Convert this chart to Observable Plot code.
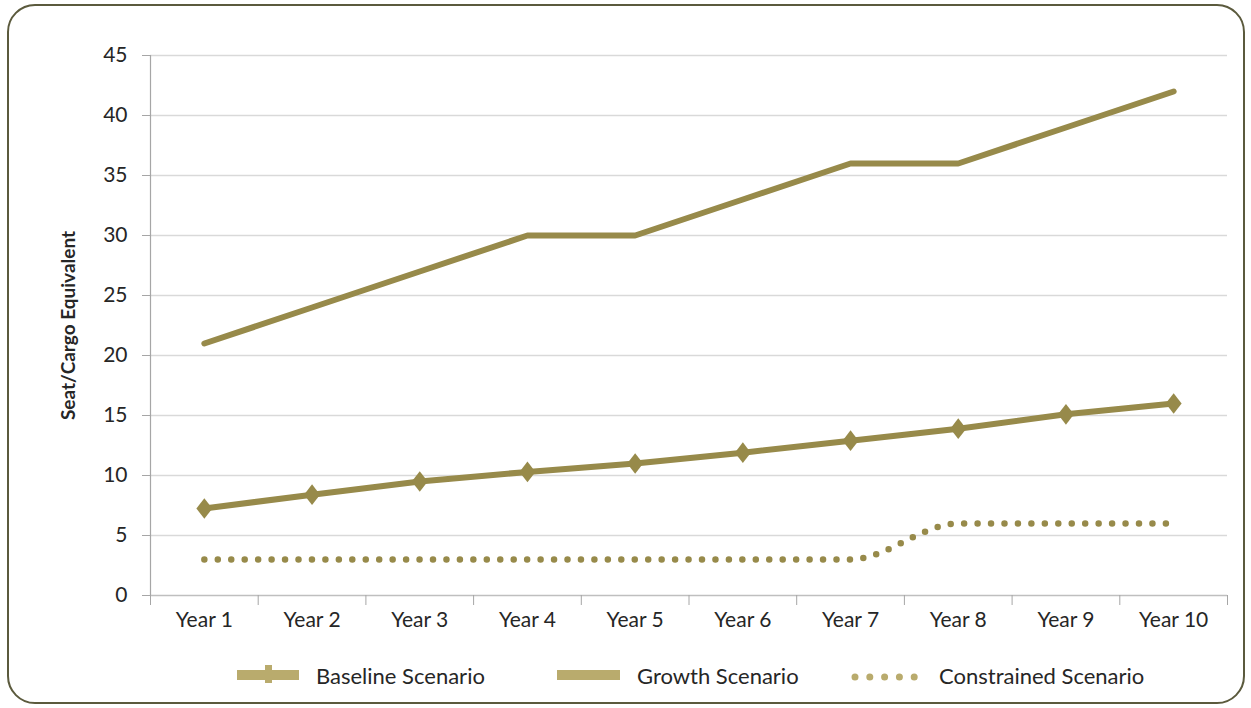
<!DOCTYPE html>
<html>
<head>
<meta charset="utf-8">
<script src="https://cdn.jsdelivr.net/npm/d3@7"></script>
<script src="https://cdn.jsdelivr.net/npm/@observablehq/plot@0.6"></script>
<style>
  html, body { margin: 0; padding: 0; background: #fff; }
  #wrap { position: relative; width: 1251px; height: 708px; overflow: hidden; font-family: Lato, "Open Sans", sans-serif; }
  #frame { position: absolute; left: 7px; top: 4px; width: 1234px; height: 696px; border: 2.5px solid #5b5a3d; border-radius: 28px; }
  #chart { position: absolute; left: 0; top: 0; }
  #legend { position: absolute; left: 0; top: 660px; width: 1251px; height: 30px; font-size: 22px; color: #262626; }
  .item { position: absolute; top: 0; height: 30px; display: flex; align-items: center; }
  .item svg { margin-right: 17px; }
</style>
</head>
<body>
<div id="wrap">
  <div id="frame"></div>
  <div id="chart"></div>
  <div id="legend"></div>
</div>
<script>
const years = ["Year 1","Year 2","Year 3","Year 4","Year 5","Year 6","Year 7","Year 8","Year 9","Year 10"];
const baseline = [7.25, 8.4, 9.5, 10.3, 11.0, 11.9, 12.9, 13.9, 15.1, 16.0];
const growth = [21, 24, 27, 30, 30, 33, 36, 36, 39, 42];
const constrained = [3, 3, 3, 3, 3, 3, 3, 6, 6, 6];
const yTicks = [0, 5, 10, 15, 20, 25, 30, 35, 40, 45];
const seriesNames = ["Baseline Scenario", "Growth Scenario", "Constrained Scenario"];

const lineColor = "#978a4a";
const legendColor = "#b9ab6d";

const idx = years.map((d, i) => i);
const bounds = d3.range(years.length + 1).map(i => i - 0.5);
const rows = (vals) => vals.map((v, i) => ({i, v}));

// diamond marker slightly taller than wide
const diamond = {
  draw(context, size) {
    const w = Math.sqrt(size) * 0.45, h = w * 1.3;
    context.moveTo(0, -h);
    context.lineTo(w, 0);
    context.lineTo(0, h);
    context.lineTo(-w, 0);
    context.closePath();
  }
};

const plot = Plot.plot({
  width: 1251,
  height: 640,
  marginLeft: 150,
  marginRight: 24,
  marginTop: 55,
  marginBottom: 45,
  style: {fontFamily: "Lato, 'Open Sans', sans-serif", fontSize: "21px", color: "#262626", background: "transparent"},
  x: {type: "linear", domain: [-0.5, years.length - 0.5]},
  y: {domain: [0, 45]},
  marks: [
    Plot.gridY(yTicks.filter(d => d > 0), {stroke: "#d9d9d9", strokeOpacity: 1, strokeWidth: 1.5}),
    Plot.ruleY([0], {stroke: "#bfbfbf", strokeWidth: 1.5}),
    Plot.ruleX([-0.5], {y1: 0, y2: 45, stroke: "#a6a6a6", strokeWidth: 1.2}),
    Plot.axisY(yTicks, {tickSize: 8, tickPadding: 15, stroke: "#a6a6a6", fill: "#262626", fontSize: 21, label: null}),
    Plot.axisX(bounds, {tickSize: 10, tickFormat: () => "", stroke: "#a6a6a6", label: null}),
    Plot.axisX(idx, {tickSize: 0, tickPadding: 17, tickFormat: i => years[i], fill: "#262626", fontSize: 21, label: null}),
    Plot.text(["Seat/Cargo Equivalent"], {frameAnchor: "left", rotate: -90, dx: -82, textAnchor: "middle", fontWeight: "bold", fontSize: 19, fill: "#262626"}),
    Plot.line(rows(constrained), {x: "i", y: "v", curve: "monotone-x", stroke: lineColor, strokeWidth: 6.5, strokeDasharray: "0 13.45", strokeLinecap: "round"}),
    Plot.line(rows(growth), {x: "i", y: "v", stroke: lineColor, strokeWidth: 6, strokeLinecap: "round", strokeLinejoin: "round"}),
    Plot.line(rows(baseline), {x: "i", y: "v", stroke: lineColor, strokeWidth: 6, strokeLinecap: "round", strokeLinejoin: "round"}),
    Plot.dot(rows(baseline), {x: "i", y: "v", symbol: diamond, r: 10, fill: lineColor, stroke: "none"})
  ]
});
document.getElementById("chart").appendChild(plot);

// legend
const legend = document.getElementById("legend");
const icons = [
  `<svg width="62" height="30"><rect x="0" y="10" width="62" height="10" fill="${legendColor}"/><rect x="28" y="5" width="7" height="18" fill="${legendColor}"/></svg>`,
  `<svg width="63" height="30"><rect x="0" y="10" width="63" height="10" fill="${legendColor}"/></svg>`,
  `<svg width="71" height="30"><line x1="4" y1="17" x2="64" y2="17" stroke="${legendColor}" stroke-width="7" stroke-dasharray="0 14.8" stroke-linecap="round"/></svg>`
];
const lefts = [237, 557, 851];
seriesNames.forEach((name, k) => {
  const d = document.createElement("div");
  d.className = "item";
  d.style.left = lefts[k] + "px";
  d.innerHTML = icons[k] + `<span>${name}</span>`;
  legend.appendChild(d);
});
</script>
</body>
</html>
